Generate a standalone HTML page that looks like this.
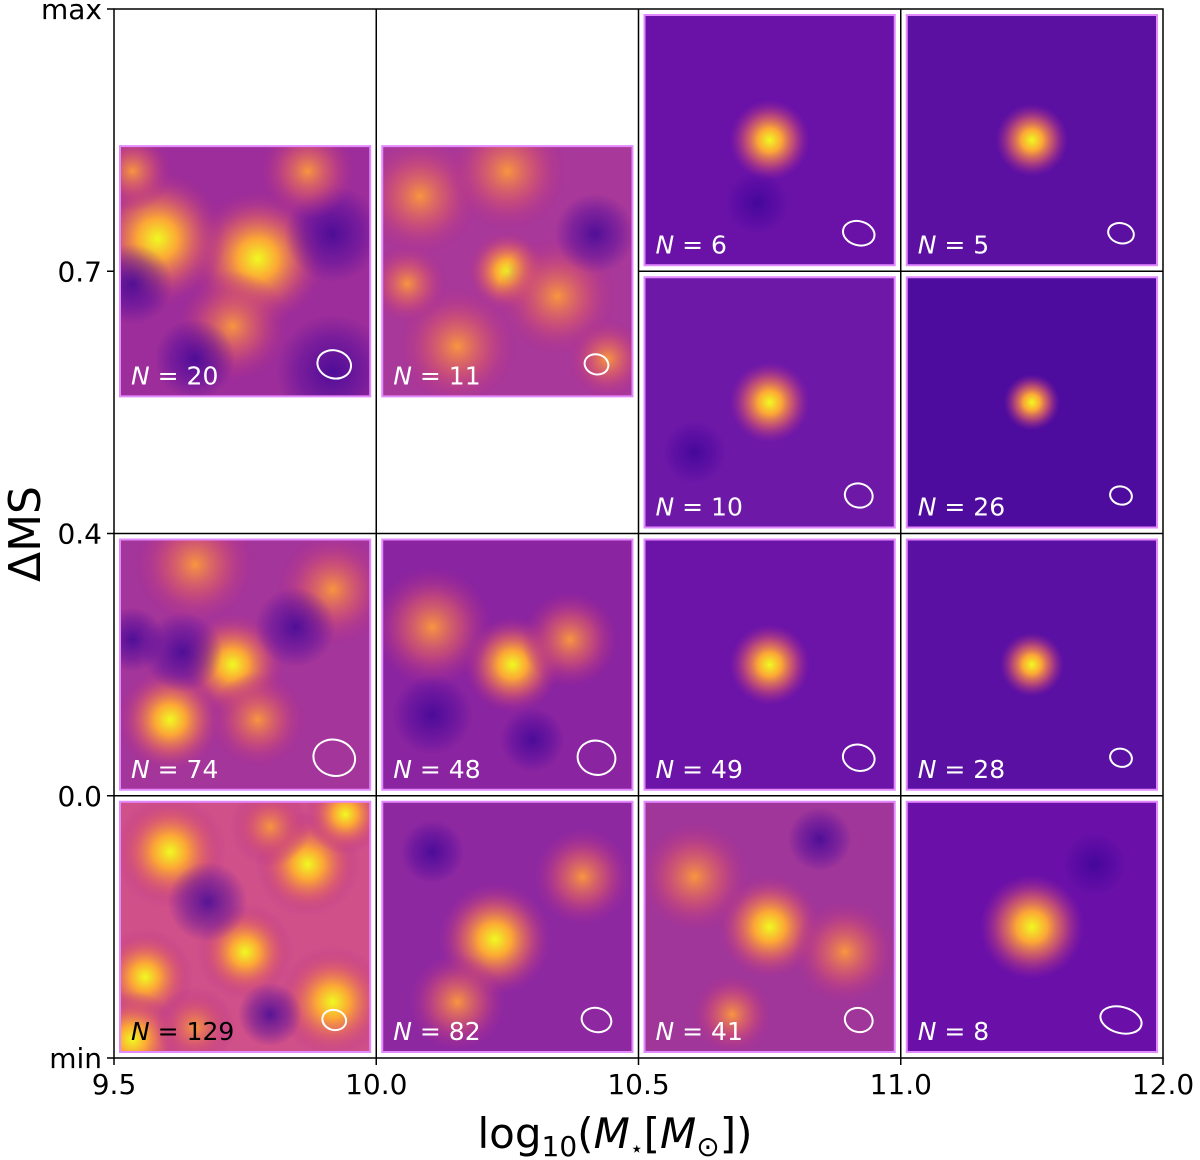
<!DOCTYPE html>
<html><head><meta charset="utf-8"><style>
body{margin:0;background:#fff;width:1200px;height:1160px;overflow:hidden}
svg{display:block}
text{font-family:"DejaVu Sans","Liberation Sans",sans-serif}
</style></head><body>
<svg id="fig" width="1200" height="1160" viewBox="0 0 1200 1160">
<defs>
<radialGradient id="hot"><stop offset="0" stop-color="#f0f921"/><stop offset="0.3" stop-color="#fca636"/><stop offset="0.6" stop-color="#e16462" stop-opacity="0.7"/><stop offset="1" stop-color="#b12a90" stop-opacity="0"/></radialGradient>
<radialGradient id="warm"><stop offset="0" stop-color="#f89540"/><stop offset="0.5" stop-color="#d5546e" stop-opacity="0.7"/><stop offset="1" stop-color="#b12a90" stop-opacity="0"/></radialGradient>
<radialGradient id="cold"><stop offset="0" stop-color="#3a0596" stop-opacity="0.8"/><stop offset="0.6" stop-color="#45049d" stop-opacity="0.4"/><stop offset="1" stop-color="#45049d" stop-opacity="0"/></radialGradient>
</defs>
<g id="tiles"></g>
<g id="axes"></g>
</svg>
<script>
// axis data (ticks sit at column boundaries)
const xTickIndex=[0,1,2,3,4];
const xTickLabels=["9.5","10.0","10.5","11.0","12.0"];
const yTickLabels=["max","0.7","0.4","0.0","min"];
const yTickPos=[0,1,2,3,4];
const tileCols=[0,1,2,3,2,3,0,1,2,3,0,1,2,3];
const tileRows=[0.5,0.5,0,0,1,1,2,2,2,2,3,3,3,3];
const tileN=[20,11,6,5,10,26,74,48,49,28,129,82,41,8];
const tileBg=["#9c2d9a","#a8389a","#6a12a8","#5c10a2","#6e18a8","#4e0c9e","#a4359a","#8a24a0","#6c14a8","#5a10a2","#d0508a","#8e28a0","#a0369a","#6a10a8"];
const beamRx=[17,12,16,13,14,11,21,19,16,11,12,15,14,21];
const beamRy=[14,10,12,10,12,9,18,17,13,9,10,12,12,13];
const tileBlobs=[
 [[0.55,0.45,0.17,"hot"],[0.15,0.37,0.17,"hot"],[0.45,0.72,0.14,"warm"],[0.05,0.1,0.1,"warm"],[0.85,0.35,0.12,"cold"],[0.05,0.55,0.1,"cold"],[0.85,0.9,0.14,"cold"],[0.3,0.85,0.1,"cold"],[0.75,0.1,0.12,"warm"]],
 [[0.5,0.5,0.1,"hot"],[0.15,0.2,0.15,"warm"],[0.7,0.6,0.15,"warm"],[0.3,0.8,0.15,"warm"],[0.85,0.35,0.1,"cold"],[0.5,0.1,0.15,"warm"],[0.9,0.85,0.1,"warm"],[0.1,0.55,0.1,"warm"]],
 [[0.5,0.5,0.1,"hot"],[0.45,0.75,0.08,"cold"]],
 [[0.5,0.5,0.09,"hot"]],
 [[0.5,0.5,0.1,"hot"],[0.2,0.7,0.08,"cold"]],
 [[0.5,0.5,0.07,"hot"]],
 [[0.45,0.5,0.13,"hot"],[0.2,0.72,0.13,"hot"],[0.55,0.72,0.12,"warm"],[0.85,0.2,0.14,"warm"],[0.3,0.1,0.15,"warm"],[0.25,0.45,0.1,"cold"],[0.7,0.35,0.1,"cold"],[0.05,0.4,0.08,"cold"]],
 [[0.52,0.5,0.12,"hot"],[0.2,0.35,0.15,"warm"],[0.75,0.4,0.12,"warm"],[0.2,0.7,0.1,"cold"],[0.6,0.8,0.08,"cold"]],
 [[0.5,0.5,0.1,"hot"]],
 [[0.5,0.5,0.08,"hot"]],
 [[0.2,0.2,0.14,"hot"],[0.75,0.25,0.13,"hot"],[0.5,0.6,0.12,"hot"],[0.85,0.8,0.14,"hot"],[0.1,0.7,0.12,"hot"],[0.05,0.95,0.12,"hot"],[0.9,0.05,0.1,"hot"],[0.35,0.4,0.1,"cold"],[0.6,0.85,0.08,"cold"],[0.3,0.9,0.1,"warm"],[0.6,0.1,0.1,"warm"]],
 [[0.45,0.55,0.14,"hot"],[0.8,0.3,0.12,"warm"],[0.2,0.2,0.08,"cold"],[0.3,0.8,0.12,"warm"]],
 [[0.5,0.5,0.13,"hot"],[0.2,0.3,0.14,"warm"],[0.8,0.6,0.13,"warm"],[0.35,0.85,0.1,"warm"],[0.7,0.15,0.08,"cold"]],
 [[0.5,0.5,0.13,"hot"],[0.75,0.25,0.08,"cold"]]
];
const NS="http://www.w3.org/2000/svg";
const L=114,R=1163,T=9,B=1058;
const colW=(R-L)/4,rowH=(B-T)/4;
const xScale=i=>L+i*colW;
function mk(tag,attrs,parent){const e=document.createElementNS(NS,tag);for(const k in attrs)e.setAttribute(k,attrs[k]);parent.appendChild(e);return e;}
const tg=document.getElementById('tiles');
for(let i=0;i<tileN.length;i++){
  const x=L+tileCols[i]*colW+6, y=T+tileRows[i]*rowH+6, s=colW-12;
  const g=mk('g',{},tg);
  
  
  const cp='cp'+i;
  const c=mk('clipPath',{id:cp},g);mk('rect',{x:x,y:y,width:s,height:s},c);
  const inner=mk('g',{'clip-path':'url(#'+cp+')'},g);
  mk('rect',{x:x,y:y,width:s,height:s,fill:tileBg[i]},inner);
  for(const b of tileBlobs[i]){
    const el=mk('circle',{cx:x+b[0]*s,cy:y+b[1]*s,r:b[2]*s*1.6,fill:'url(#'+b[3]+')'},inner);
    
    
  }
  mk('rect',{x:x,y:y,width:s,height:s,fill:'none',stroke:'#e48aff','stroke-width':2},g);
  const be=mk('ellipse',{cx:x+s-36,cy:y+s-32,rx:beamRx[i],ry:beamRy[i],fill:'none',stroke:'#fff','stroke-width':2,transform:'rotate(15 '+(x+s-36)+' '+(y+s-32)+')'},g);
  
  
  const t=mk('text',{x:x+11,y:y+s-12,fill:tileN[i]===129?'#000':'#fff','font-size':25,'font-family':'"DejaVu Serif","Liberation Serif",serif'},g);
  t.innerHTML='<tspan font-style="italic">N</tspan> = '+tileN[i];
  
  
}
const ag=document.getElementById('axes');
for(let k=1;k<4;k++){mk('line',{x1:L+k*colW,y1:T,x2:L+k*colW,y2:B,stroke:'#000','stroke-width':1.5},ag);}
for(let k=1;k<4;k++){const x1=(k===1)?L+2*colW:L;mk('line',{x1:x1,y1:T+k*rowH,x2:R,y2:T+k*rowH,stroke:'#000','stroke-width':1.5},ag);}
const fr=mk('rect',{x:L,y:T,width:R-L,height:B-T,fill:'none',stroke:'#000','stroke-width':1.5},ag);


for(let i=0;i<xTickIndex.length;i++){
  const x=xScale(xTickIndex[i]);
  mk('line',{x1:x,y1:B,x2:x,y2:B+7,stroke:'#000','stroke-width':1.5},ag);
  const t=mk('text',{x:x,y:B+36,'text-anchor':'middle','font-size':28},ag);t.textContent=xTickLabels[i];
  
  
}
for(let i=0;i<yTickLabels.length;i++){
  const y=T+yTickPos[i]*rowH;
  mk('line',{x1:L-7,y1:y,x2:L,y2:y,stroke:'#000','stroke-width':1.5},ag);
  const t=mk('text',{x:L-12,y:y+10,'text-anchor':'end','font-size':28},ag);t.textContent=yTickLabels[i];
  
  
}
const xt=mk('text',{x:615,y:1148,'text-anchor':'middle','font-size':42,'font-family':'"DejaVu Serif","Liberation Serif",serif'},ag);
xt.innerHTML='log<tspan font-size="28" dy="8">10</tspan><tspan dy="-8" font-family="DejaVu Sans">(</tspan><tspan font-style="italic" font-family="DejaVu Sans">M</tspan><tspan font-size="22" dy="8">⋆</tspan><tspan dy="-8" font-family="DejaVu Sans">[</tspan><tspan font-style="italic" font-family="DejaVu Sans">M</tspan><tspan font-size="28" dy="8">⊙</tspan><tspan dy="-8" font-family="DejaVu Sans">])</tspan>';


const yt=mk('text',{x:0,y:0,'text-anchor':'middle','font-size':44,transform:'translate(40 534) rotate(-90)'},ag);
yt.textContent='ΔMS';


</script>
</body></html>
